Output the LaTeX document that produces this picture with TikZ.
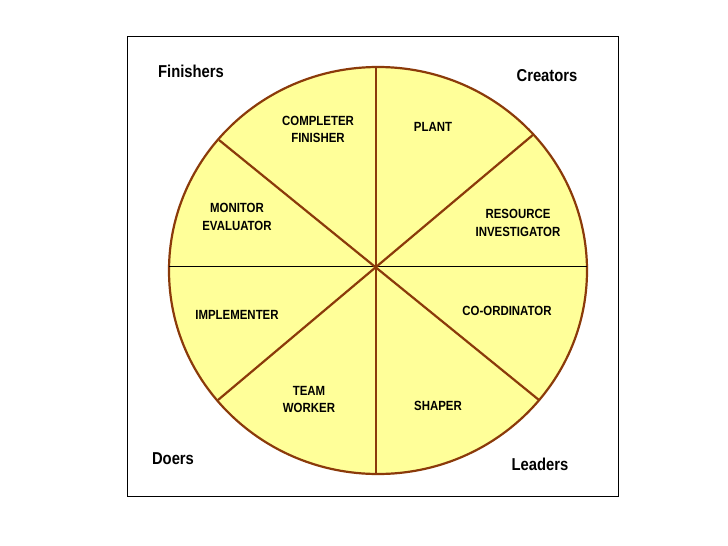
\documentclass[tikz,border=0pt]{standalone}
\usepackage{fontspec}
\setmainfont{Liberation Sans}[FakeStretch=0.86]
\definecolor{pie}{HTML}{FFFF99}
\definecolor{rim}{HTML}{8B3A0A}
\begin{document}
\begin{tikzpicture}[x=1pt,y=-1pt,
  group/.style={font=\bfseries\fontsize{17.2}{19}\selectfont, inner sep=0pt},
  role/.style={font=\bfseries\fontsize{13.3}{17.5}\selectfont, align=center, inner sep=0pt},
  spoke/.style={draw=rim, line width=2.2pt}]
\useasboundingbox (0,0) rectangle (728,546);
\draw[black, line width=0.8pt] (127,36) rectangle (618,496);
\coordinate (c) at (378,270.5);
\draw[fill=pie, draw=rim, line width=2.2pt] (c) ellipse [x radius=209, y radius=203.5];
\coordinate (ul) at (219,140);
\coordinate (lr) at (539,400);
\coordinate (ur) at (534,134);
\coordinate (ll) at (218,400);
\coordinate (t) at (376,67);
\coordinate (b) at (376,474);
\coordinate (l) at (169,266);
\coordinate (r) at (587,266);
\draw[black, line width=0.8pt] (l) -- (r);
\draw[spoke] (t) -- (b);
\draw[spoke] (ul) -- (lr);
\draw[spoke] (ur) -- (ll);
\node[group] (fin) at (191,71) {Finishers};
\node[group] (cre) at (547,76) {Creators};
\node[group] (doe) at (173,459) {Doers};
\node[group] (lea) at (540,464) {Leaders};
\node[role] (cf) at (318,129.5) {COMPLETER\\FINISHER};
\node[role] (pl) at (433,127) {PLANT};
\node[role] (me) at (237,217) {MONITOR\\EVALUATOR};
\node[role] (im) at (237,315) {IMPLEMENTER};
\node[role] (ri) at (518,223) {RESOURCE\\INVESTIGATOR};
\node[role] (co) at (507,311) {CO-ORDINATOR};
\node[role] (tw) at (309,399.5) {TEAM\\WORKER};
\node[role] (sh) at (438,406) {SHAPER};
\end{tikzpicture}
\end{document}
